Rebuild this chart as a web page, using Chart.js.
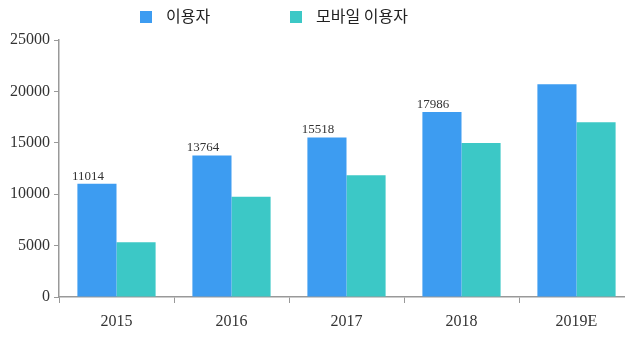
<!DOCTYPE html>
<html>
<head>
<meta charset="utf-8">
<script src="https://cdn.jsdelivr.net/npm/chart.js@4.4.0/dist/chart.umd.min.js"></script>
<style>
  html, body { margin: 0; padding: 0; background: #fff; }
  .wrap { position: relative; width: 625px; height: 337px; overflow: hidden; }
  .legend { position: absolute; top: 5px; left: 0; font-family: "Noto Sans CJK KR", sans-serif; font-size: 16px; color: #222; }
  .legend span.item { position: absolute; white-space: nowrap; line-height: 20px; }
  .legend i { display: inline-block; width: 12px; height: 12px; vertical-align: -1px; margin-right: 14px; }
  canvas { position: absolute; left: 0; top: 0; }
</style>
</head>
<body>
<div class="wrap">
  <canvas id="mycanvas" width="640" height="337" style="width:640px;height:337px"></canvas>
  <div class="legend" id="legend"></div>
</div>
<script>
const years = ["2015", "2016", "2017", "2018", "2019E"];
const users = [11014, 13764, 15518, 17986, 20700];
const mobileUsers = [5320, 9760, 11840, 14980, 17000];
const userLabels = ["11014", "13764", "15518", "17986", ""];
const seriesNames = ["이용자", "모바일 이용자"];
const colors = ["#3d9cf1", "#3cc8c6"];
const legendX = [140, 290];

// legend as plain html
const legend = document.getElementById("legend");
seriesNames.forEach((name, i) => {
  const s = document.createElement("span");
  s.className = "item";
  s.style.left = legendX[i] + "px";
  s.innerHTML = '<i style="background:' + colors[i] + '"></i>' + name;
  legend.appendChild(s);
});

// value text above the blue bars (sits a bit left of the bar centre, like the source)
const barLabels = {
  id: "barLabels",
  afterDatasetsDraw(chart) {
    const ctx = chart.ctx;
    const meta = chart.getDatasetMeta(0);
    ctx.save();
    ctx.font = '13px "Liberation Serif", serif';
    ctx.fillStyle = "#333";
    ctx.textAlign = "center";
    ctx.textBaseline = "bottom";
    meta.data.forEach((bar, i) => {
      if (userLabels[i]) ctx.fillText(userLabels[i], bar.x - 9, bar.y - 1);
    });
    ctx.restore();
  }
};

new Chart(document.getElementById("mycanvas"), {
  type: "bar",
  data: {
    labels: years,
    datasets: [
      { label: seriesNames[0], data: users, backgroundColor: colors[0], borderWidth: 0 },
      { label: seriesNames[1], data: mobileUsers, backgroundColor: colors[1], borderWidth: 0 }
    ]
  },
  options: {
    responsive: false,
    animation: false,
    layout: { padding: { top: 40, right: 6, left: 0, bottom: 0 } },
    datasets: { bar: { categoryPercentage: 0.68, barPercentage: 1.0 } },
    plugins: {
      legend: { display: false },
      tooltip: { enabled: false }
    },
    scales: {
      x: {
        afterFit: (scale) => { scale.height = 40; },
        grid: { display: true, drawOnChartArea: false, offset: true, tickLength: 6, color: "#999" },
        border: { display: true, color: "#999", width: 1.5 },
        ticks: {
          color: "#333",
          padding: 9,
          font: { family: '"Liberation Serif", serif', size: 16 }
        }
      },
      y: {
        min: 0,
        max: 25000,
        afterFit: (scale) => { scale.width = 59; },
        grid: { display: true, drawOnChartArea: false, tickLength: 5, color: "#999" },
        border: { display: true, color: "#999", width: 1.5 },
        ticks: {
          stepSize: 5000,
          color: "#333",
          padding: 4,
          callback: (v) => String(v),
          font: { family: '"Liberation Serif", serif', size: 16 }
        }
      }
    }
  },
  plugins: [barLabels]
});
</script>
</body>
</html>
